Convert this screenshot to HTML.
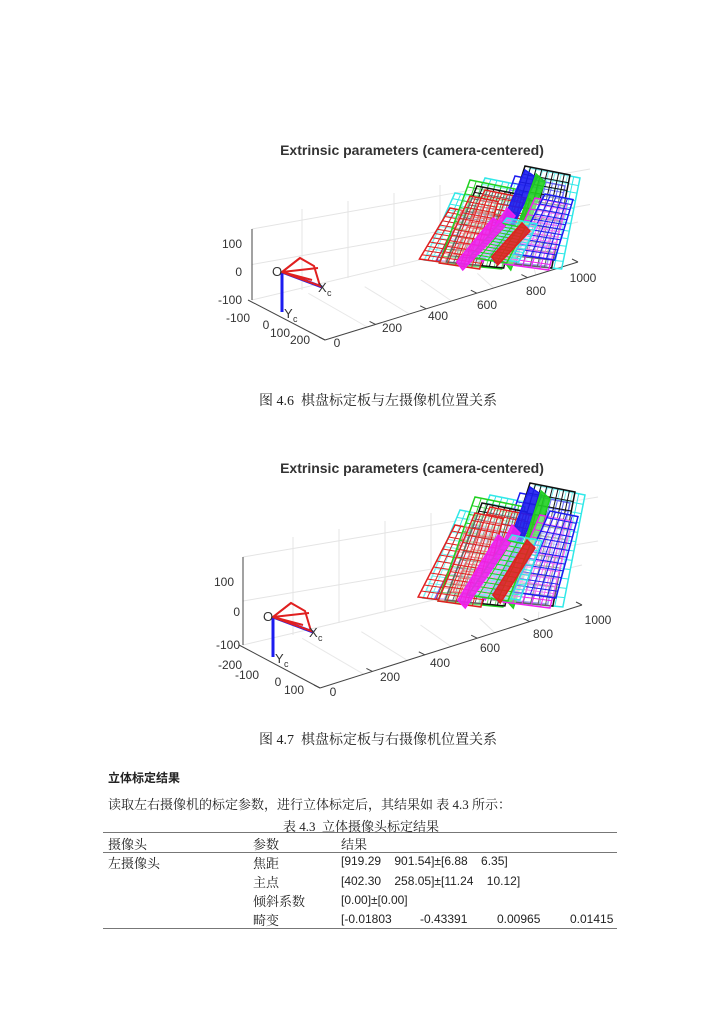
<!DOCTYPE html>
<html><head><meta charset="utf-8"><style>
body{margin:0;background:#fff;width:720px;height:1018px;position:relative;overflow:hidden;font-family:"Liberation Serif","Noto Serif CJK SC",serif;color:#222}
.t{position:absolute;white-space:nowrap}
.cap{font-size:14px}
.tb{font-family:"Liberation Sans","Noto Sans CJK SC",sans-serif;font-size:12px}
.hl{position:absolute;left:103px;width:514px;height:1px;background:#777}
svg{position:absolute;left:0;top:0}
</style></head><body>
<svg id="s" width="720" height="1018" font-family="Liberation Sans, sans-serif"></svg>
<div class="t cap" style="left:259px;top:390px">图 4.6&nbsp; 棋盘标定板与左摄像机位置关系</div>
<div class="t cap" style="left:259px;top:729px">图 4.7&nbsp; 棋盘标定板与右摄像机位置关系</div>
<div class="t" style="left:108px;top:769px;font-size:12px;font-weight:bold;font-family:'Liberation Sans','Noto Sans CJK SC',sans-serif">立体标定结果</div>
<div class="t" style="left:108px;top:794px;font-size:13px">读取左右摄像机的标定参数，进行立体标定后，其结果如 表 4.3 所示：</div>
<div class="t" style="left:283px;top:816px;font-size:13px">表 4.3&nbsp; 立体摄像头标定结果</div>
<div class="hl" style="top:832px"></div>
<div class="hl" style="top:852px"></div>
<div class="hl" style="top:928px"></div>
<div class="t" style="left:108px;top:834px;font-size:13px">摄像头</div>
<div class="t" style="left:253px;top:834px;font-size:13px">参数</div>
<div class="t" style="left:341px;top:834px;font-size:13px">结果</div>
<div class="t" style="left:108px;top:853px;font-size:13px">左摄像头</div>
<div class="t" style="left:253px;top:853px;font-size:13px">焦距</div>
<div class="t" style="left:253px;top:872px;font-size:13px">主点</div>
<div class="t" style="left:253px;top:891px;font-size:13px">倾斜系数</div>
<div class="t" style="left:253px;top:910px;font-size:13px">畸变</div>
<div class="t tb" style="left:341px;top:854px">[919.29&nbsp;&nbsp;&nbsp; 901.54]±[6.88&nbsp;&nbsp;&nbsp; 6.35]</div>
<div class="t tb" style="left:341px;top:874px">[402.30&nbsp;&nbsp;&nbsp; 258.05]±[11.24&nbsp;&nbsp;&nbsp; 10.12]</div>
<div class="t tb" style="left:341px;top:893px">[0.00]±[0.00]</div>
<div class="t tb" style="left:341px;top:912px">[-0.01803</div>
<div class="t tb" style="left:420px;top:912px">-0.43391</div>
<div class="t tb" style="left:497px;top:912px">0.00965</div>
<div class="t tb" style="left:570px;top:912px">0.01415</div>
<script>
var s=document.getElementById('s'),h='';
function L(x1,y1,x2,y2,c,w){h+='<line x1="'+x1+'" y1="'+y1+'" x2="'+x2+'" y2="'+y2+'" stroke="'+c+'" stroke-width="'+(w||1)+'"/>';}
function T(x,y,t,sz,a,b){h+='<text x="'+x+'" y="'+y+'" font-size="'+(sz||12)+'" fill="#333" text-anchor="'+(a||'start')+'"'+(b?' font-weight="bold"':'')+'>'+t+'</text>';}
function plot(dy,ax,ay0,ay1,bx,by,ex,ey,bx0,bx1,by0,by1,left,bottom){
 T(412,dy+155,'Extrinsic parameters (camera-centered)',14,'middle',true);
 for(var i=0;i<6;i++){var x=ax+50+i*46;L(x,ay0-20-i*8,x,ay1-10-i*12,'#e4e4e4');}
 L(ax,ay0,bx1+10,ay0-60,'#e4e4e4');L(ax,(ay0+ay1)/2,bx1+10,(ay0+ay1)/2-60,'#e4e4e4');L(ax,ay1,ex,ey-40,'#e4e4e4');
 for(var i=1;i<6;i++){var t=i/6;L(bx+(ex-bx)*t,by+(ey-by)*t,ax+(bx1+10-ax)*t,ay1-40*t,'#e8e8e8');}
 L(ax,ay0,ax,ay1,'#444');L(ax-4,ay1,bx,by,'#444');L(bx,by,ex,ey,'#444');
 for(var i=0;i<6;i++){var t=i/5;L(bx+(ex-bx)*t,by+(ey-by)*t,bx+(ex-bx)*t-6,by+(ey-by)*t-3,'#444');}
 left.forEach(function(a){T(a[0],a[1],a[2],12,'end');});
 bottom.forEach(function(a){T(a[0],a[1],a[2],12,'middle');});
 var cx=ax+30,cy=ay1-28;
 L(cx,cy,cx,cy+40,'#1c1cf0',3);L(cx,cy,cx+40,cy+15,'#1c1cf0',3);
 h+='<polygon points="'+cx+','+cy+' '+(cx+18)+','+(cy-14)+' '+(cx+32)+','+(cy-6)+' '+(cx+38)+','+(cy+14)+'" fill="none" stroke="#e02020" stroke-width="2"/>';
 L(cx,cy,cx+36,cy-4,'#e02020',2);L(cx,cy,cx+30,cy+8,'#e02020',2);L(cx,cy,cx+18,cy-14,'#e02020',2);
 T(cx-10,cy+4,'O',13);T(cx+36,cy+20,'X',13);T(cx+45,cy+24,'c',9);T(cx+2,cy+46,'Y',13);T(cx+11,cy+50,'c',9);
 var H=by1-by0;
 var B=[
  [70,10,60,'#30e8e8'],[115,0,50,'#30e8e8'],[100,8,50,'#1c1cf0'],[110,-2,45,'#111'],
  [40,25,40,'#30e8e8'],[52,40,30,'#1c1cf0'],[35,40,30,'#e02020'],
  [55,12,50,'#20d020'],[62,18,45,'#111'],[70,22,45,'#e02020'],[55,28,28,'#e02020'],
  [92,2,30,'#1c1cf0',1],[108,6,22,'#20d020',1],[80,40,20,'#f020f0',1],
  [120,30,32,'#f020f0'],[130,26,28,'#1c1cf0'],[92,50,30,'#30e8e8'],[85,55,25,'#20d020'],[60,50,30,'#f020f0',1],[95,55,20,'#e02020',1]
 ];
 B.forEach(function(b){
  var x=bx0+b[0],y=by0+b[1],w=b[2],c=b[3],thin=b[4];
  var bot=by1-((b[0]*7)%12);var sk=-(H*0.3);
  var p=[[x,y],[x+w,y+w*0.2],[x+w+sk*0.6,bot],[x+sk,bot-6]];
  if(thin){p=[[x+w*0.6,y],[x+w,y+8],[x+sk*0.4,bot],[x+sk*0.6,bot-8]];}
  h+='<polygon points="'+p.map(function(q){return q.join(',')}).join(' ')+'" fill="'+(thin?c:'#fff')+'" fill-opacity="'+(thin?0.9:0.35)+'" stroke="'+c+'" stroke-width="1.5"/>';
  if(thin)return;
  var n=Math.max(4,Math.round(w/6)),m=12;
  for(var i=1;i<n;i++){var tt=i/n;L(p[0][0]+(p[1][0]-p[0][0])*tt,p[0][1]+(p[1][1]-p[0][1])*tt,p[3][0]+(p[2][0]-p[3][0])*tt,p[3][1]+(p[2][1]-p[3][1])*tt,c,1);}
  for(var i=1;i<m;i++){var tt=i/m;L(p[0][0]+(p[3][0]-p[0][0])*tt,p[0][1]+(p[3][1]-p[0][1])*tt,p[1][0]+(p[2][0]-p[1][0])*tt,p[1][1]+(p[2][1]-p[1][1])*tt,c,1);}
 });
}
plot(0,252,229,300,325,340,578,262,415,580,168,270,
 [[242,248,'100'],[242,276,'0'],[242,304,'-100'],[250,322,'-100']],
 [[266,329,'0'],[280,337,'100'],[300,344,'200'],[337,347,'0'],[392,332,'200'],[438,320,'400'],[487,309,'600'],[536,295,'800'],[583,282,'1000']]);
plot(318,243,557,645,320,688,582,605,420,588,485,608,
 [[234,586,'100'],[240,616,'0'],[240,649,'-100']],
 [[230,669,'-200'],[247,679,'-100'],[278,686,'0'],[294,694,'100'],[333,696,'0'],[390,681,'200'],[440,667,'400'],[490,652,'600'],[543,638,'800'],[598,624,'1000']]);
s.innerHTML=h;
</script>
</body></html>
